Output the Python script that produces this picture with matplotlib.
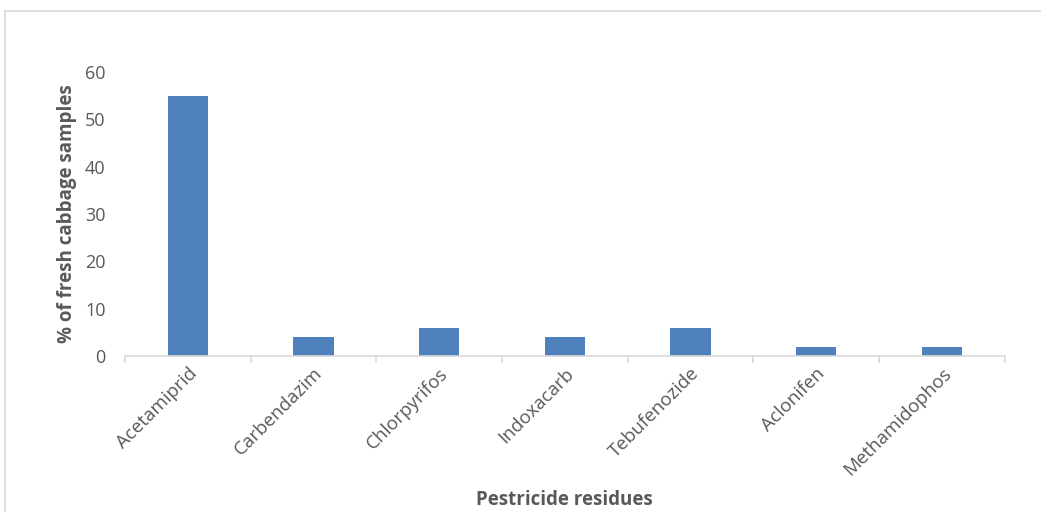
import matplotlib.pyplot as plt
import matplotlib.patches as mpatches
import numpy as np

pesticides = ['Acetamiprid', 'Carbendazim', 'Chlorpyrifos', 'Indoxacarb',
              'Tebufenozide', 'Aclonifen', 'Methamidophos']
percent_samples = [55, 4, 6, 4, 6, 2, 2]

plt.rcParams['font.family'] = ['Open Sans', 'DejaVu Sans']
text_color = '#595959'
axis_color = '#d9d9d9'

fig = plt.figure(figsize=(10.41, 5.12), dpi=100)
ax = fig.add_axes([0.120, 0.3047, 0.845, 0.5547])

# outer chart frame (cut off at right/bottom like the reference)
frame = mpatches.Rectangle((4.5 / 1041, -0.05), 1.1, 1 - 10.5 / 512 + 0.05,
                           transform=fig.transFigure, fill=False,
                           edgecolor=axis_color, linewidth=1.2, clip_on=False)
fig.patches.append(frame)

x = np.arange(len(pesticides))
ax.bar(x, percent_samples, width=0.32, color='#4f81bd', zorder=2)

ax.set_xlim(-0.5, len(pesticides) - 0.5)
ax.set_ylim(0, 60)
ax.set_yticks(range(0, 61, 10))

ax.set_xticks(x)
ax.set_xticklabels(pesticides, rotation=45, ha='right', va='top',
                   rotation_mode='anchor', fontsize=13.5, color=text_color)
ax.tick_params(axis='x', which='major', length=0, pad=6)
ax.set_xticks(np.arange(-0.5, len(pesticides)), minor=True)
ax.tick_params(axis='x', which='minor', length=5, color=axis_color, width=1.2)
ax.tick_params(axis='y', length=0, labelsize=13, labelcolor=text_color, pad=14)

for side in ['top', 'right', 'left']:
    ax.spines[side].set_visible(False)
ax.spines['bottom'].set_color(axis_color)
ax.spines['bottom'].set_linewidth(1.2)

ax.set_ylabel('% of fresh cabbage samples', fontsize=13.5, fontweight='bold',
              color=text_color, labelpad=6)
ax.set_xlabel('Pestricide residues', fontsize=13.5, fontweight='bold',
              color=text_color)
ax.xaxis.set_label_coords(0.5, -(500 - 356) / 284, transform=ax.transAxes)
ax.xaxis.label.set_va('center')

fig.savefig('out.png', dpi=100)
